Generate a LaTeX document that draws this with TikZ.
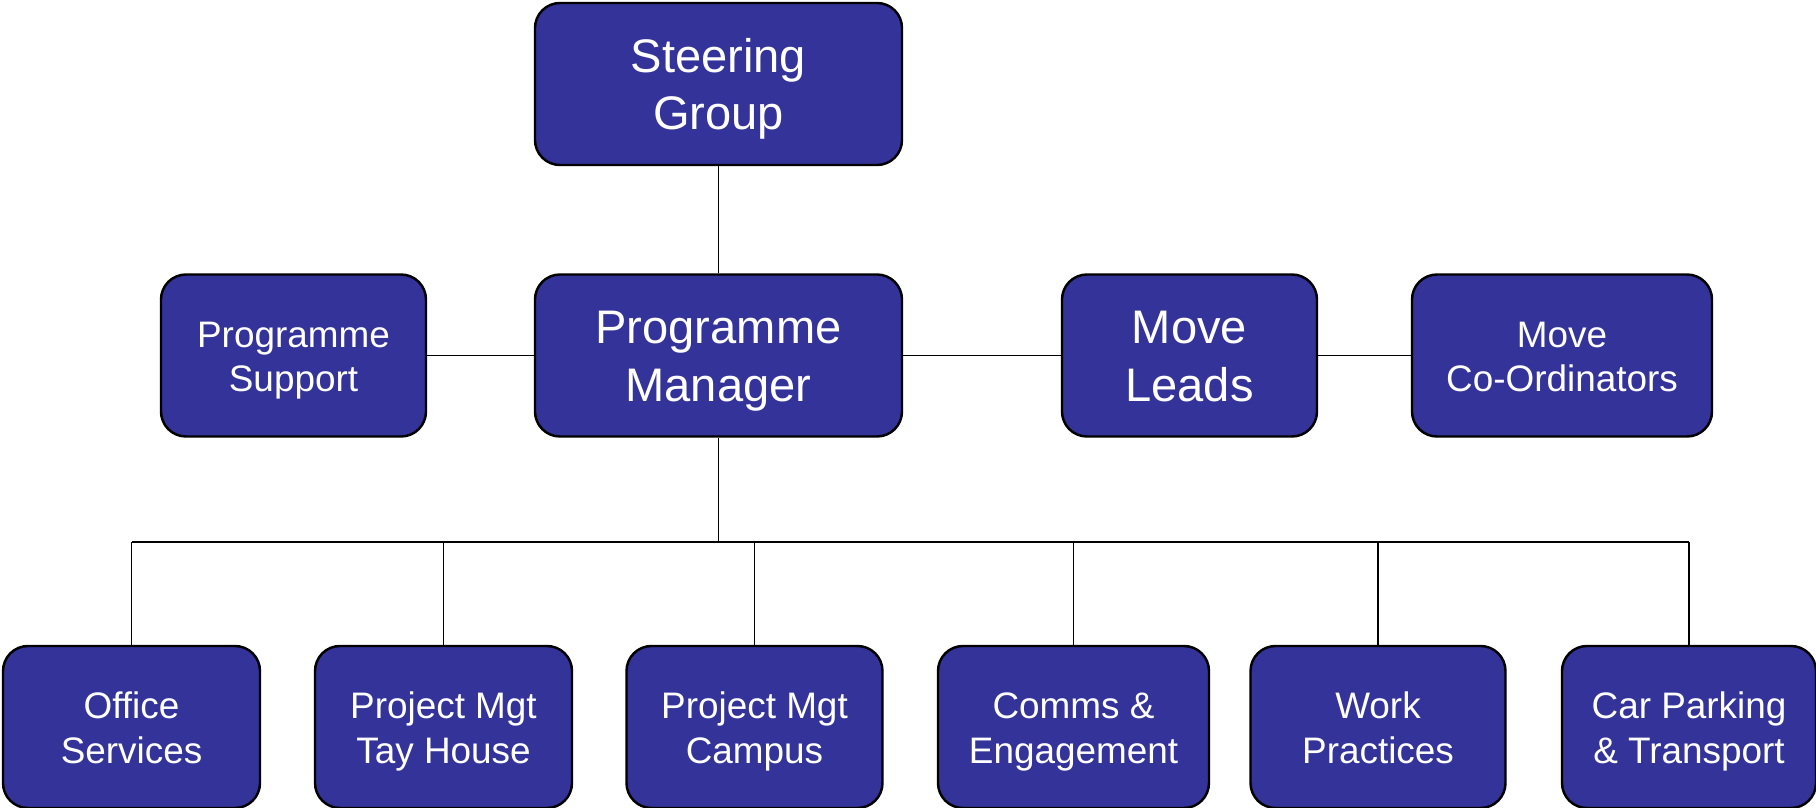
\documentclass[tikz,border=0pt]{standalone}
\usepackage{fontspec}
\setmainfont{Liberation Sans}
\definecolor{boxblue}{HTML}{333399}
\begin{document}
\begin{tikzpicture}[x=0.02cm,y=-0.02cm,
  unit/.style={draw=black, line width=1.4pt, fill=boxblue, rounded corners=0.5cm,
    text=white, align=center, inner sep=0pt, minimum height=162*0.02cm},
  bigtext/.style={font=\fontsize{26.8}{32.9}\selectfont, text height=1.84cm, text depth=0pt},
  smalltext/.style={font=\fontsize{21}{25.2}\selectfont, text height=1.44cm, text depth=0pt},
  link/.style={draw=black, line width=1.1pt}]
\useasboundingbox (0,0) rectangle (1816,808);

% top tiers
\node[unit, bigtext, minimum width=367*0.02cm] (steer) at (718.5,84) {Steering\\Group};
\node[unit, bigtext, minimum width=367*0.02cm] (pm) at (718.5,355.5) {Programme\\Manager};
\node[unit, smalltext, minimum width=265*0.02cm] (supp) at (293.5,355.5) {Programme\\Support};
\node[unit, bigtext, minimum width=255*0.02cm] (leads) at (1189.5,355.5) {Move\\Leads};
\node[unit, smalltext, minimum width=300*0.02cm] (coord) at (1562,355.5) {Move\\Co-Ordinators};

% workstreams
\node[unit, smalltext, minimum width=257*0.02cm] (office) at (131.5,727) {Office\\Services};
\node[unit, smalltext, minimum width=257*0.02cm] (tay) at (443.5,727) {Project Mgt\\Tay House};
\node[unit, smalltext, minimum width=256*0.02cm] (campus) at (754.5,727) {Project Mgt\\Campus};
\node[unit, smalltext, minimum width=271*0.02cm] (comms) at (1073.5,727) {Comms \&\\Engagement};
\node[unit, smalltext, minimum width=255*0.02cm] (work) at (1378,727) {Work\\Practices};
\node[unit, smalltext, minimum width=254*0.02cm] (car) at (1689,727) {Car Parking\\\& Transport};

\coordinate (bus) at (718.5,542);

% reporting lines
\draw[link] (steer.south) -- (pm.north);
\draw[link] (supp.east) -- (pm.west);
\draw[link] (pm.east) -- (leads.west);
\draw[link] (leads.east) -- (coord.west);
\draw[link] (pm.south) -- (bus);
\draw[link] (office.north |- bus) -- (car.north |- bus);
\foreach \n in {office,tay,campus,comms,work,car}
  \draw[link] (\n.north) -- (\n.north |- bus);
\end{tikzpicture}
\end{document}
